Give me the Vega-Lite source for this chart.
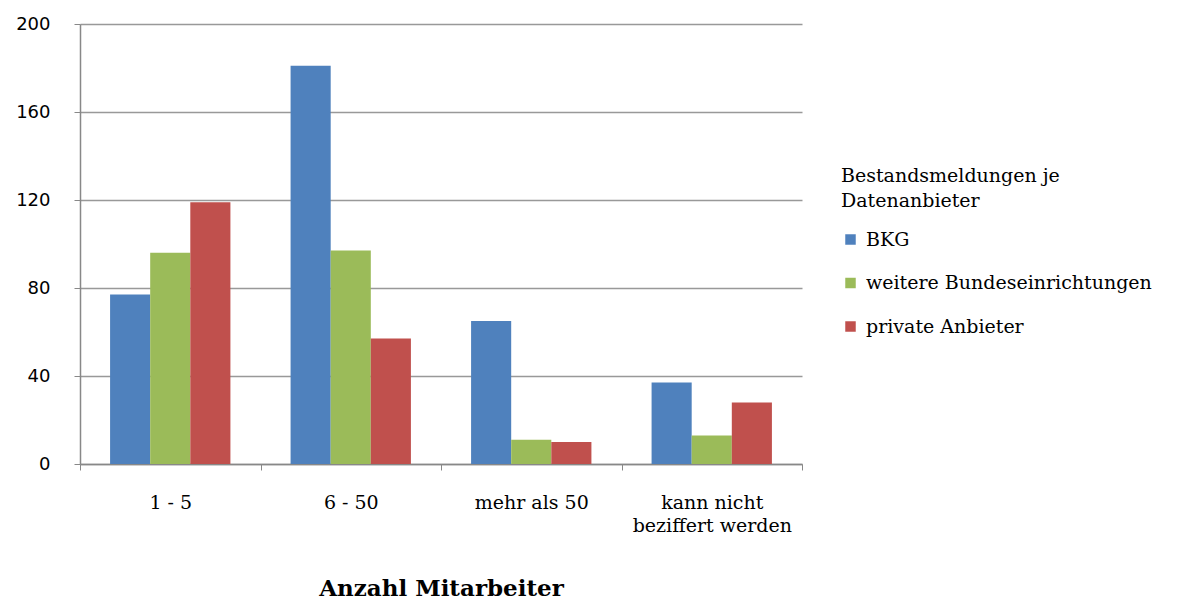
{
  "$schema": "https://vega.github.io/schema/vega-lite/v6.json",
  "width": 722,
  "height": 440,
  "autosize": "none",
  "padding": {"left": 80, "top": 24, "right": 393, "bottom": 135},
  "background": "white",
  "data": {
    "values": [
      {"cat": "1 - 5", "series": "BKG", "value": 77},
      {"cat": "1 - 5", "series": "weitere Bundeseinrichtungen", "value": 96},
      {"cat": "1 - 5", "series": "private Anbieter", "value": 119},
      {"cat": "6 - 50", "series": "BKG", "value": 181},
      {"cat": "6 - 50", "series": "weitere Bundeseinrichtungen", "value": 97},
      {"cat": "6 - 50", "series": "private Anbieter", "value": 57},
      {"cat": "mehr als 50", "series": "BKG", "value": 65},
      {"cat": "mehr als 50", "series": "weitere Bundeseinrichtungen", "value": 11},
      {"cat": "mehr als 50", "series": "private Anbieter", "value": 10},
      {"cat": "kann nicht beziffert werden", "series": "BKG", "value": 37},
      {"cat": "kann nicht beziffert werden", "series": "weitere Bundeseinrichtungen", "value": 13},
      {"cat": "kann nicht beziffert werden", "series": "private Anbieter", "value": 28}
    ]
  },
  "mark": {"type": "bar"},
  "encoding": {
    "x": {
      "field": "cat",
      "type": "nominal",
      "sort": ["1 - 5", "6 - 50", "mehr als 50", "kann nicht beziffert werden"],
      "scale": {"paddingInner": 0, "paddingOuter": 0},
      "axis": {
        "title": "Anzahl Mitarbeiter",
        "titleFont": "DejaVu Serif",
        "titleFontSize": 23,
        "titleFontWeight": "bold",
        "titleColor": "black",
        "titlePadding": 42,
        "labelAngle": 0,
        "labelFont": "DejaVu Serif",
        "labelFontSize": 19,
        "labelColor": "black",
        "labelPadding": 23,
        "labelLineHeight": 23,
        "labelLimit": 300,
        "labelExpr": "datum.label == 'kann nicht beziffert werden' ? ['kann nicht', 'beziffert werden'] : datum.label",
        "tickBand": "extent",
        "tickSize": 6,
        "tickColor": "#888888",
        "domainColor": "#888888",
        "domainWidth": 1.5,
        "grid": false
      }
    },
    "xOffset": {
      "field": "series",
      "type": "nominal",
      "sort": ["BKG", "weitere Bundeseinrichtungen", "private Anbieter"],
      "scale": {"paddingInner": 0, "paddingOuter": 0.75}
    },
    "y": {
      "field": "value",
      "type": "quantitative",
      "scale": {"domain": [0, 200], "nice": false},
      "axis": {
        "title": null,
        "values": [0, 40, 80, 120, 160, 200],
        "labelFont": "DejaVu Sans",
        "labelFontSize": 18,
        "labelColor": "black",
        "labelPadding": 24,
        "tickSize": 6,
        "tickColor": "#888888",
        "domainColor": "#888888",
        "domainWidth": 1.5,
        "gridColor": "#999999",
        "gridWidth": 1.5
      }
    },
    "color": {
      "field": "series",
      "type": "nominal",
      "sort": ["BKG", "weitere Bundeseinrichtungen", "private Anbieter"],
      "scale": {
        "domain": ["BKG", "weitere Bundeseinrichtungen", "private Anbieter"],
        "range": ["#4F81BD", "#9BBB59", "#C0504D"]
      },
      "legend": {
        "title": ["Bestandsmeldungen je", "Datenanbieter"],
        "titleFont": "DejaVu Serif",
        "titleFontSize": 19,
        "titleFontWeight": "normal",
        "titleColor": "black",
        "titleLineHeight": 25,
        "titlePadding": 19,
        "titleLimit": 400,
        "labelFont": "DejaVu Serif",
        "labelFontSize": 19,
        "labelColor": "black",
        "labelLimit": 400,
        "symbolType": "square",
        "symbolSize": 110,
        "symbolStrokeWidth": 0,
        "rowPadding": 23.5,
        "labelOffset": 6,
        "orient": "none",
        "legendX": 761,
        "legendY": 143
      }
    }
  },
  "config": {"view": {"stroke": null}}
}
